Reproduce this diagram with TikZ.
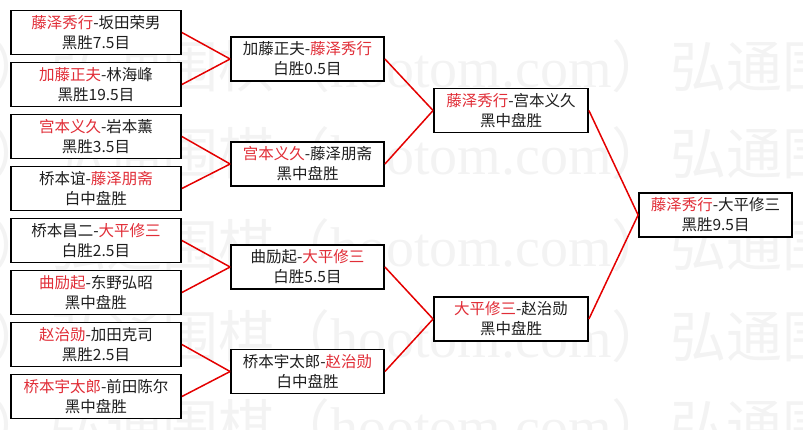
\documentclass[tikz,border=0pt]{standalone}
\usepackage{fontspec}
\newfontfamily\cjk{Noto Sans CJK SC}
\newfontfamily\wmlatin{Liberation Serif}
\definecolor{wred}{RGB}{225,45,55}
\definecolor{lred}{RGB}{228,0,0}
\definecolor{wmgray}{RGB}{243,243,243}
\definecolor{txt}{RGB}{30,30,30}
\newcommand{\rd}[1]{{\color{wred}#1}}
\begin{document}
\begin{tikzpicture}[x=1pt,y=-1pt,
  box/.style={draw=black, line width=1.8pt, fill=white, minimum width=#1,
    minimum height=44pt, inner sep=0pt, align=center, text=txt,
    font=\cjk\fontsize{15.5}{20}\selectfont},
  wmark/.style={anchor=west, inner sep=0pt, text=wmgray, font=\cjk\fontsize{56}{56}\selectfont},
  conn/.style={draw=lred, line width=1.5pt}]
\useasboundingbox (0,0) rectangle (803,429);
\begin{scope}
\clip (0,0) rectangle (803,429);
\foreach \y [count=\i] in {66,153,245,336,425} {
  \foreach \x [count=\j] in {-570,50,670} {
    \node[wmark] (wm\i\j) at (\x,\y) {弘通围棋（{\wmlatin hootom.com}）};
  }
}
\end{scope}
% round 1
\node[box=170pt] (a1) at (96,32.5) {\rd{藤泽秀行}-坂田荣男\\黑胜7.5目};
\node[box=170pt] (a2) at (96,84.5) {\rd{加藤正夫}-林海峰\\黑胜19.5目};
\node[box=170pt] (a3) at (96,136.5) {\rd{宫本义久}-岩本薰\\黑胜3.5目};
\node[box=170pt] (a4) at (96,188.5) {桥本谊-\rd{藤泽朋斋}\\白中盘胜};
\node[box=170pt] (a5) at (96,240.5) {桥本昌二-\rd{大平修三}\\白胜2.5目};
\node[box=170pt] (a6) at (96,292.5) {\rd{曲励起}-东野弘昭\\黑中盘胜};
\node[box=170pt] (a7) at (96,344.5) {\rd{赵治勋}-加田克司\\黑胜2.5目};
\node[box=170pt] (a8) at (96,396.5) {\rd{桥本宇太郎}-前田陈尔\\黑中盘胜};
% round 2
\node[box=153pt] (b1) at (307.5,59) {加藤正夫-\rd{藤泽秀行}\\白胜0.5目};
\node[box=153pt] (b2) at (307.5,164) {\rd{宫本义久}-藤泽朋斋\\黑中盘胜};
\node[box=153pt] (b3) at (307.5,267) {曲励起-\rd{大平修三}\\白胜5.5目};
\node[box=153pt] (b4) at (307.5,371.5) {桥本宇太郎-\rd{赵治勋}\\白中盘胜};
% round 3
\node[box=154pt] (c1) at (511,110.5) {\rd{藤泽秀行}-宫本义久\\黑中盘胜};
\node[box=154pt] (c2) at (511,319) {\rd{大平修三}-赵治勋\\黑中盘胜};
% final
\node[box=153pt] (d1) at (715.5,215) {\rd{藤泽秀行}-大平修三\\黑胜9.5目};
% connectors
\draw[conn] (a1.east) -- (b1.west);
\draw[conn] (a2.east) -- (b1.west);
\draw[conn] (a3.east) -- (b2.west);
\draw[conn] (a4.east) -- (b2.west);
\draw[conn] (a5.east) -- (b3.west);
\draw[conn] (a6.east) -- (b3.west);
\draw[conn] (a7.east) -- (b4.west);
\draw[conn] (a8.east) -- (b4.west);
\draw[conn] (b1.east) -- (c1.west);
\draw[conn] (b2.east) -- (c1.west);
\draw[conn] (b3.east) -- (c2.west);
\draw[conn] (b4.east) -- (c2.west);
\draw[conn] (c1.east) -- (d1.west);
\draw[conn] (c2.east) -- (d1.west);
\end{tikzpicture}
\end{document}
